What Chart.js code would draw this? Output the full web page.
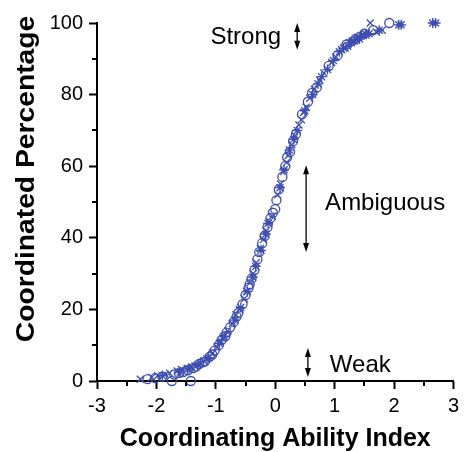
<!DOCTYPE html>
<html>
<head>
<meta charset="utf-8">
<script src="https://cdn.jsdelivr.net/npm/chart.js@4/dist/chart.umd.min.js"></script>
<style>
  html, body { margin: 0; padding: 0; background: #fff; }
  #wrap { width: 464px; height: 452px; }
</style>
</head>
<body>
<div id="wrap"><canvas id="sigChart" width="464" height="452"></canvas></div>
<script>
// values
const circleX = [-2.15, -2.02, -1.9, -1.74, -1.7, -1.62, -1.55, -1.47, -1.42, -1.38, -1.33, -1.28, -1.22, -1.18, -1.1, -1.06, -1.02, -0.95, -0.9, -0.84, -0.82, -0.76, -0.7, -0.65, -0.62, -0.55, -0.5, -0.45, -0.43, -0.4, -0.35, -0.3, -0.27, -0.22, -0.18, -0.13, -0.08, -0.04, 0.0, 0.02, 0.06, 0.12, 0.17, 0.2, 0.25, 0.3, 0.35, 0.45, 0.55, 0.62, 0.7, 0.9, 1.05, 1.2, 1.35, 1.5, 1.65, 1.92];
const circleY = [0.5, 0.8, 1.2, 0, 1.8, 2.2, 2.5, 3.0, 0, 3.6, 4.0, 4.8, 5.2, 5.5, 6.8, 7.4, 8.5, 10, 11.5, 12.5, 13.5, 15, 16.5, 18, 19, 21.5, 24, 26, 27, 28.5, 31, 34, 36, 38.5, 40.5, 43, 45.5, 47, 48, 50.5, 53.5, 57, 60, 62.5, 64, 67, 69, 74.5, 78, 80.5, 82, 88, 91, 94, 95.5, 97, 98, 100];

const crossX = [-2.27, -2.08, -1.98, -1.85, -1.78, -1.65, -1.58, -1.48, -1.41, -1.35, -1.25, -1.2, -1.15, -1.05, -0.98, -0.92, -0.88, -0.8, -0.72, -0.66, -0.6, -0.52, -0.48, -0.42, -0.37, -0.32, -0.25, -0.2, -0.15, -0.1, -0.05, 0.04, 0.09, 0.14, 0.19, 0.22, 0.28, 0.33, 0.4, 0.44, 0.48, 0.52, 0.58, 0.66, 0.75, 0.82, 0.95, 1.02, 1.12, 1.18, 1.22, 1.3, 1.36, 1.4, 1.48, 1.6, 1.7, 1.8];
const crossY = [0.5, 1, 1.5, 1.8, 2.2, 2.8, 3.2, 3.5, 3.9, 4.2, 5, 5.6, 6.2, 7.8, 9.5, 11, 12, 14, 16, 18.5, 20, 23, 25, 27.5, 30, 33, 37, 39.5, 42, 44.5, 46, 52, 55, 58.5, 61, 63, 66, 68.5, 71.5, 73, 75, 76.5, 79, 81.5, 84, 86, 89, 90.5, 92.5, 93, 93.5, 95, 95.5, 96, 96.5, 100, 97.5, 98];

const starX = [-1.9, -1.6, -1.45, -1.3, -1.12, -0.94, -0.86, -0.68, -0.58, -0.47, -0.38, -0.33, -0.24, -0.16, -0.12, 0.08, 0.15, 0.24, 0.31, 0.37, 0.5, 0.63, 0.72, 0.78, 0.88, 0.98, 1.08, 1.15, 1.25, 1.28, 1.33, 1.38, 1.42, 1.45, 1.52, 1.58, 1.75, 2.08, 2.12, 2.65, 2.7];
const starY = [1.5, 2.5, 3.4, 4.5, 6.5, 10.5, 12.5, 17, 20.5, 25, 29, 32, 36.5, 41, 44, 54, 59, 64.5, 67.5, 70, 75.5, 80, 83, 85, 87, 89.5, 92, 93, 94.5, 94.5, 95, 96, 95.5, 96.5, 97, 97, 98, 99.5, 99.5, 100, 100];

const xMinor = [-2.5, -1.5, -0.5, 0.5, 1.5, 2.5];
const yMinor = [10, 30, 50, 70, 90];

const labels = [
  { text: 'Strong', x: 0.1, y: 96.1, align: 'right' },
  { text: 'Ambiguous', x: 0.84, y: 49.7, align: 'left' },
  { text: 'Weak', x: 0.92, y: 4.5, align: 'left' }
];
const arrows = [
  { x: 0.37, y0: 92.5, y1: 100 },
  { x: 0.52, y0: 36, y1: 60.3 },
  { x: 0.55, y0: 1.1, y1: 9.2 }
];

const blue = 'rgb(62,78,176)';
const font = '"Liberation Sans", Arial, Helvetica, sans-serif';

function pts(xs, ys) {
  return xs.map((x, i) => ({ x: x, y: ys[i] }));
}

const extras = {
  id: 'extras',
  afterDraw(chart) {
    const c = chart.ctx;
    const xs = chart.scales.x, ys = chart.scales.y;
    const left = chart.chartArea.left, bottom = chart.chartArea.bottom;
    c.save();
    c.strokeStyle = '#000';
    c.lineWidth = 2;
    // minor ticks
    xMinor.forEach(v => {
      const px = Math.round(xs.getPixelForValue(v));
      c.beginPath(); c.moveTo(px, bottom); c.lineTo(px, bottom + 5); c.stroke();
    });
    yMinor.forEach(v => {
      const py = Math.round(ys.getPixelForValue(v));
      c.beginPath(); c.moveTo(left, py); c.lineTo(left - 5, py); c.stroke();
    });
    // arrows
    c.lineWidth = 1.3;
    c.fillStyle = '#000';
    arrows.forEach(a => {
      const px = xs.getPixelForValue(a.x);
      const top = ys.getPixelForValue(a.y1), bot = ys.getPixelForValue(a.y0);
      c.beginPath(); c.moveTo(px, top + 6); c.lineTo(px, bot - 6); c.stroke();
      c.beginPath(); c.moveTo(px, top); c.lineTo(px - 3, top + 9); c.lineTo(px + 3, top + 9); c.closePath(); c.fill();
      c.beginPath(); c.moveTo(px, bot); c.lineTo(px - 3, bot - 9); c.lineTo(px + 3, bot - 9); c.closePath(); c.fill();
    });
    // text labels
    c.font = '24px ' + font;
    c.textBaseline = 'middle';
    labels.forEach(l => {
      c.textAlign = l.align;
      c.fillText(l.text, xs.getPixelForValue(l.x), ys.getPixelForValue(l.y));
    });
    // y axis title, a little taller than wide like the original figure
    c.translate(27, 179);
    c.rotate(-Math.PI / 2);
    c.scale(1.13, 1);
    c.font = 'bold 25px ' + font;
    c.textAlign = 'center';
    c.fillText('Coordinated Percentage', 0, 0);
    c.restore();
  }
};

const ds = (label, data, style, r) => ({
  label: label,
  data: data,
  pointStyle: style,
  pointRadius: r,
  pointBorderWidth: 1.3,
  borderColor: blue,
  backgroundColor: 'rgba(0,0,0,0)',
  pointHoverRadius: r,
  clip: false
});

new Chart(document.getElementById('sigChart'), {
  type: 'scatter',
  data: {
    datasets: [
      ds('circle', pts(circleX, circleY), 'circle', 4.5),
      ds('cross', pts(crossX, crossY), 'crossRot', 5),
      ds('star', pts(starX, starY), 'star', 5)
    ]
  },
  options: {
    responsive: false,
    animation: false,
    layout: { padding: { top: 23, right: 8, left: 0, bottom: 0 } },
    plugins: { legend: { display: false }, tooltip: { enabled: false } },
    scales: {
      x: {
        type: 'linear', min: -3, max: 3,
        afterFit: s => { s.height = 71; },
        border: { color: '#000', width: 2 },
        grid: { drawOnChartArea: false, tickLength: 8, tickColor: '#000', tickWidth: 2 },
        ticks: { stepSize: 1, color: '#000', padding: 5, font: { family: font, size: 20 } },
        title: { display: true, text: 'Coordinating Ability Index', color: '#000', padding: 0,
                 font: { family: font, size: 25, weight: 'bold', lineHeight: 1 } }
      },
      y: {
        type: 'linear', min: 0, max: 100,
        afterFit: s => { s.width = 97; },
        border: { color: '#000', width: 2 },
        grid: { drawOnChartArea: false, tickLength: 8, tickColor: '#000', tickWidth: 2 },
        ticks: { stepSize: 20, color: '#000', padding: 6, font: { family: font, size: 20 } }
      }
    }
  },
  plugins: [extras]
});
</script>
</body>
</html>
